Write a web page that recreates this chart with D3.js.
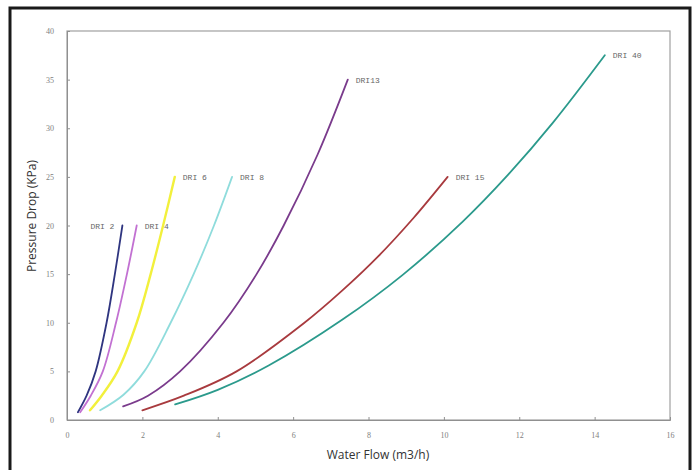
<!DOCTYPE html>
<html>
<head>
<meta charset="utf-8">
<script src="https://cdn.jsdelivr.net/npm/d3@7"></script>
<style>
  body { margin: 0; background: #fff; }
  svg { display: block; }
</style>
</head>
<body>
<div id="chart"></div>
<script>
var size = { width: 696, height: 470 };
var plot = { left: 67, top: 31, right: 670, bottom: 420 };

// Tick values
var xTicks = [0, 2, 4, 6, 8, 10, 12, 14, 16];
var yTicks = [0, 5, 10, 15, 20, 25, 30, 35, 40];

// Series names, colors, and [flow, pressure] points
var seriesNames = ["DRI 2", "DRI 4", "DRI 6", "DRI 8", "DRI13", "DRI 15", "DRI 40"];
var seriesColors = ["#2f3580", "#c271d2", "#f2f03c", "#8fdcdc", "#7a3b8c", "#a83a3e", "#2b9a8c"];
var dri2 = [[0.29, 0.8], [0.52, 2.5], [0.76, 5], [1.05, 10], [1.27, 15], [1.47, 20]];
var dri4 = [[0.35, 0.8], [0.63, 2.5], [0.95, 5], [1.3, 10], [1.59, 15], [1.85, 20]];
var dri6 = [[0.61, 1.0], [0.92, 2.5], [1.34, 5], [1.85, 10], [2.22, 15], [2.55, 20], [2.86, 25]];
var dri8 = [[0.88, 1.0], [1.5, 2.6], [2.05, 5], [2.75, 10], [3.36, 15], [3.9, 20], [4.38, 25]];
var dri13 = [[1.49, 1.4], [2.15, 2.5], [3.0, 5], [4.15, 10], [5.03, 15], [5.75, 20], [6.65, 27.3], [7.45, 35]];
var dri15 = [[2.0, 1.0], [3.1, 2.5], [4.5, 5], [6.3, 10], [7.3, 13.3], [8.25, 16.8], [9.2, 20.8], [10.1, 25]];
var dri40 = [[2.87, 1.6], [4.0, 3.1], [5.35, 5.6], [7.3, 10.3], [8.9, 14.9], [10.5, 20.4], [11.7, 25.2], [12.9, 30.6], [14.27, 37.5]];
var seriesData = [dri2, dri4, dri6, dri8, dri13, dri15, dri40];

var svg = d3.select("#chart").append("svg")
    .attr("width", size.width)
    .attr("height", size.height);

// Outer black frame
svg.append("rect")
    .attr("x", 10).attr("y", 8)
    .attr("width", 680).attr("height", 470)
    .attr("fill", "#fff")
    .attr("stroke", "#1a1a1a")
    .attr("stroke-width", 3);

var x = d3.scaleLinear().domain([0, 16]).range([plot.left, plot.right]);
var y = d3.scaleLinear().domain([0, 40]).range([plot.bottom, plot.top]);

// Plot area border
svg.append("rect")
    .attr("x", plot.left).attr("y", plot.top)
    .attr("width", plot.right - plot.left)
    .attr("height", plot.bottom - plot.top)
    .attr("fill", "#fff")
    .attr("stroke", "#a0a0a0")
    .attr("stroke-width", 1.2);

// Axes
var xAxis = svg.append("g")
    .attr("transform", "translate(0," + plot.bottom + ")")
    .call(d3.axisBottom(x).tickValues(xTicks).tickSize(-3).tickPadding(12).tickFormat(d3.format("d")));
var yAxis = svg.append("g")
    .attr("transform", "translate(" + plot.left + ",0)")
    .call(d3.axisLeft(y).tickValues(yTicks).tickSize(-3).tickPadding(13).tickFormat(d3.format("d")));

[xAxis, yAxis].forEach(g => {
    g.select(".domain").attr("stroke", "#909090");
    g.selectAll(".tick line").attr("stroke", "#909090");
    g.selectAll(".tick text")
        .attr("fill", "#808080")
        .style("font-family", "Liberation Serif, serif")
        .style("font-size", "8px");
});

// Curves
var line = d3.line()
    .x(d => x(d[0]))
    .y(d => y(d[1]))
    .curve(d3.curveCatmullRom.alpha(0.5));

svg.append("g").selectAll("path")
    .data(seriesData)
    .enter()
    .append("path")
    .attr("d", line)
    .attr("fill", "none")
    .attr("stroke", (d, i) => seriesColors[i])
    .attr("stroke-width", (d, i) => i === 2 ? 2.4 : 1.8)
    .attr("stroke-linecap", "round");

// Series labels at the curve ends
svg.append("g").selectAll("text")
    .data(seriesData)
    .enter()
    .append("text")
    .attr("x", (d, i) => x(d[d.length - 1][0]) + (i === 0 ? -8 : 8))
    .attr("y", d => y(d[d.length - 1][1]) + 3)
    .attr("text-anchor", (d, i) => i === 0 ? "end" : "start")
    .attr("fill", "#666")
    .style("font-family", "Liberation Mono, monospace")
    .style("font-size", "8px")
    .text((d, i) => seriesNames[i]);

// Axis titles
svg.append("text")
    .attr("x", 378).attr("y", 459)
    .attr("text-anchor", "middle")
    .attr("fill", "#333")
    .style("font-family", "Open Sans, sans-serif")
    .style("font-size", "12px")
    .text("Water Flow (m3/h)");

svg.append("text")
    .attr("transform", "translate(36,216) rotate(-90)")
    .attr("text-anchor", "middle")
    .attr("fill", "#333")
    .style("font-family", "Open Sans, sans-serif")
    .style("font-size", "12px")
    .text("Pressure Drop (KPa)");
</script>
</body>
</html>
